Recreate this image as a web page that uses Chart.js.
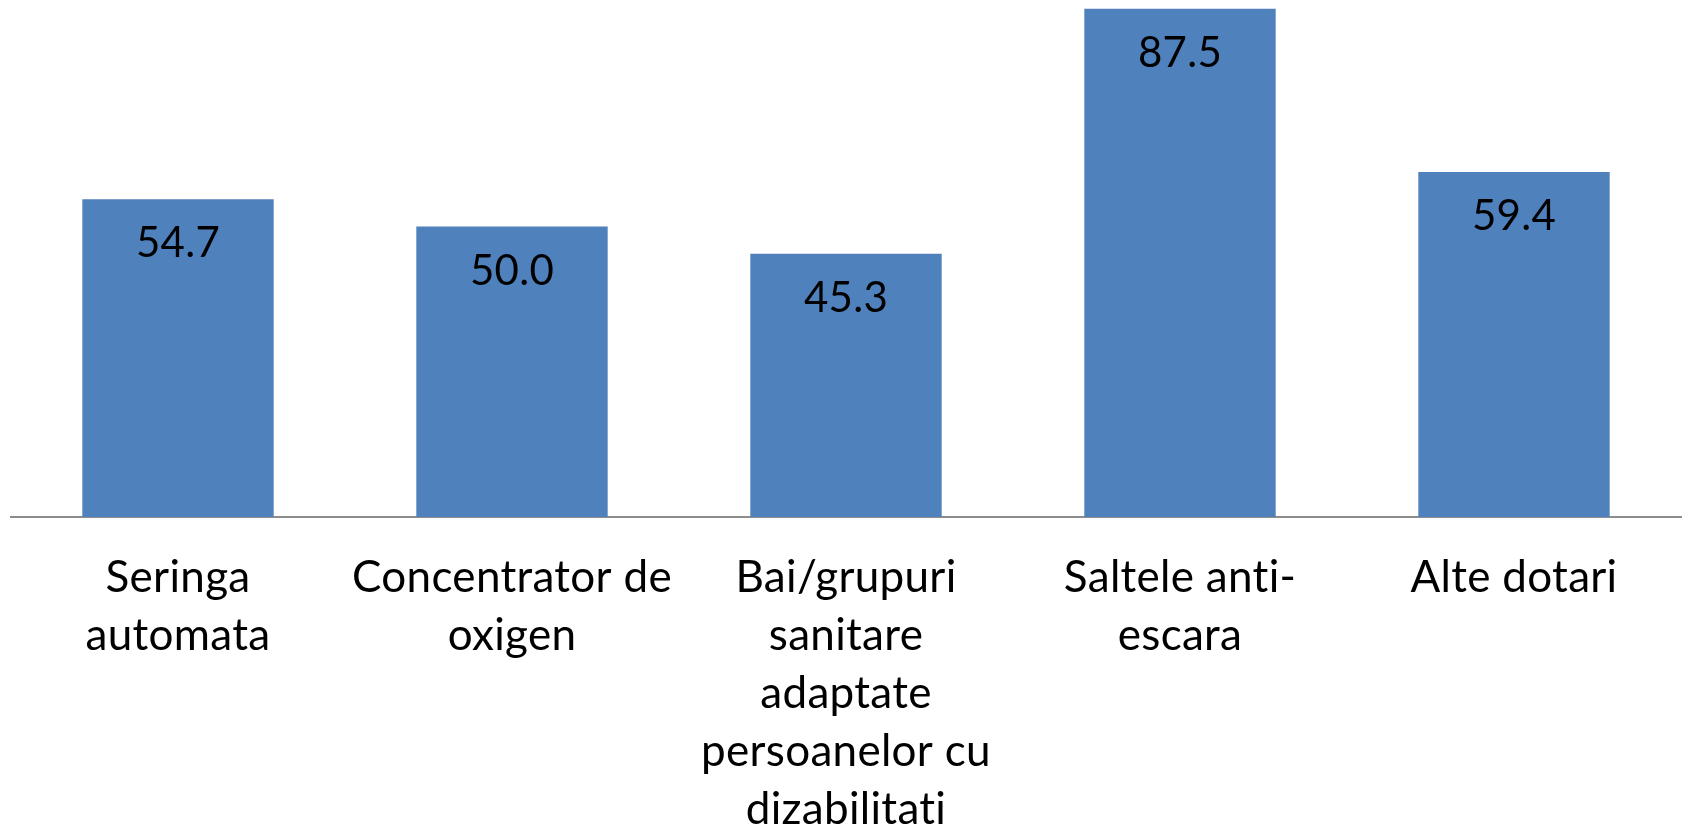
<!DOCTYPE html>
<html>
<head>
<meta charset="utf-8">
<script src="https://cdn.jsdelivr.net/npm/chart.js@4"></script>
<style>
  html, body { margin: 0; padding: 0; background: #ffffff; }
  #wrap { width: 1683px; height: 832px; position: relative; }
</style>
</head>
<body>
<div id="wrap"><canvas id="c"></canvas></div>
<script>
const categories = [
  ["Seringa", "automata"],
  ["Concentrator de", "oxigen"],
  ["Bai/grupuri", "sanitare", "adaptate", "persoanelor cu", "dizabilitati"],
  ["Saltele anti-", "escara"],
  ["Alte dotari"]
];
const values = [54.7, 50.0, 45.3, 87.5, 59.4];

const FONT = "Lato, 'Open Sans', sans-serif";

const noLigatures = {
  id: 'noLigatures',
  beforeDraw(chart) {
    try { chart.ctx.letterSpacing = '0.3px'; } catch (e) {}
  }
};

const valueLabels = {
  id: 'valueLabels',
  afterDatasetsDraw(chart) {
    const ctx = chart.ctx;
    const meta = chart.getDatasetMeta(0);
    ctx.save();
    ctx.font = "42px " + FONT;
    ctx.fillStyle = "#000000";
    ctx.textAlign = "center";
    ctx.textBaseline = "alphabetic";
    meta.data.forEach((bar, i) => {
      ctx.fillText(values[i].toFixed(1), bar.x, bar.y + 58);
    });
    ctx.restore();
  }
};

new Chart(document.getElementById('c'), {
  type: 'bar',
  data: {
    labels: categories,
    datasets: [{
      data: values,
      backgroundColor: '#4F81BD',
      borderWidth: 0,
      categoryPercentage: 1.0,
      barPercentage: 0.573
    }]
  },
  options: {
    responsive: true,
    maintainAspectRatio: false,
    animation: false,
    layout: { padding: { left: 11, right: 2, top: 0, bottom: 0 } },
    plugins: { legend: { display: false }, tooltip: { enabled: false } },
    scales: {
      x: {
        grid: { display: false, drawTicks: false },
        border: { display: true, color: '#8c8c8c', width: 2 },
        ticks: {
          color: '#000000',
          font: { family: FONT, size: 44, lineHeight: 1.318 },
          padding: 32,
          maxRotation: 0,
          autoSkip: false
        },
        afterFit(scale) { scale.height = 315; }
      },
      y: {
        display: false,
        min: 0,
        max: 89
      }
    }
  },
  plugins: [noLigatures, valueLabels]
});
</script>
</body>
</html>
